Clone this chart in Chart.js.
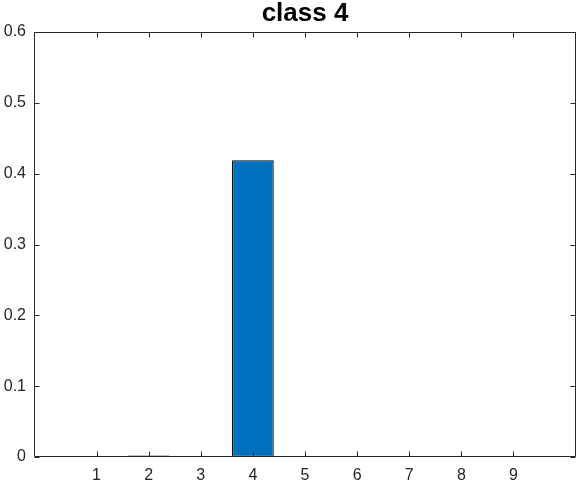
<!DOCTYPE html>
<html>
<head>
<meta charset="utf-8">
<script src="https://cdn.jsdelivr.net/npm/chart.js@4"></script>
<style>
  html, body { margin: 0; padding: 0; background: #fff; }
  #wrap { width: 582px; height: 482px; }
</style>
</head>
<body>
<div id="wrap"><canvas id="chart" width="582" height="482"></canvas></div>
<script>
const classes = [1, 2, 3, 4, 5, 6, 7, 8, 9];
const values = [0, 0.002, 0, 0.419, 0, 0, 0, 0, 0];
const xTicks = [1, 2, 3, 4, 5, 6, 7, 8, 9];
const yTicks = [0, 0.1, 0.2, 0.3, 0.4, 0.5, 0.6];

const axisColor = '#262626';
Chart.defaults.font.family = '"Liberation Sans", Arial, Helvetica, sans-serif';
Chart.defaults.color = axisColor;

// matlab style box with inward ticks
const boxPlugin = {
    id: 'box',
    afterDatasetsDraw(chart) {
        const { ctx, chartArea: a, scales } = chart;
        const L = Math.round(a.left) + 0.5, R = Math.round(a.right) - 0.5;
        const T = Math.round(a.top) + 0.5, B = Math.round(a.bottom) - 0.5;
        const len = 5;
        ctx.save();
        ctx.strokeStyle = axisColor;
        ctx.lineWidth = 1;
        ctx.beginPath();
        ctx.rect(L, T, R - L, B - T);
        xTicks.forEach(v => {
            const x = Math.round(scales.x.getPixelForValue(v)) + 0.5;
            ctx.moveTo(x, B); ctx.lineTo(x, B - len);
            ctx.moveTo(x, T); ctx.lineTo(x, T + len);
        });
        yTicks.forEach(v => {
            const y = Math.round(scales.y.getPixelForValue(v)) + 0.5;
            ctx.moveTo(L, y); ctx.lineTo(L + len, y);
            ctx.moveTo(R, y); ctx.lineTo(R - len, y);
        });
        ctx.stroke();
        ctx.restore();
    }
};

new Chart(document.getElementById('chart'), {
    type: 'bar',
    data: {
        datasets: [{
            data: classes.map((c, i) => ({ x: c, y: values[i] })),
            backgroundColor: '#0072BD',
            borderColor: '#000000',
            borderWidth: 1.2,
            borderSkipped: false,
            barPercentage: 0.8,
            categoryPercentage: 1
        }]
    },
    options: {
        responsive: false,
        animation: false,
        layout: { padding: { left: 0, right: 6, top: 0, bottom: 0 } },
        plugins: {
            legend: { display: false },
            tooltip: { enabled: false },
            title: {
                display: true,
                fullSize: false,
                text: 'class 4',
                color: '#000',
                font: { size: 26, weight: 'bold', lineHeight: 1.0 },
                padding: { top: 0.5, bottom: 5.5 }
            }
        },
        scales: {
            x: {
                type: 'linear',
                min: -0.2,
                max: 10.2,
                offset: false,
                grid: { display: false, drawTicks: false },
                border: { display: false },
                afterBuildTicks: s => { s.ticks = xTicks.map(v => ({ value: v })); },
                afterFit: s => { s.height = 25; },
                ticks: { font: { size: 16 }, padding: 9, maxRotation: 0, autoSkip: false }
            },
            y: {
                min: 0,
                max: 0.6,
                grid: { display: false, drawTicks: false },
                border: { display: false },
                afterBuildTicks: s => { s.ticks = yTicks.map(v => ({ value: v })); },
                afterFit: s => { s.width = 34; },
                ticks: {
                    font: { size: 16 },
                    padding: 8,
                    callback: v => v === 0 ? '0' : v.toFixed(1)
                }
            }
        }
    },
    plugins: [boxPlugin]
});
</script>
</body>
</html>
